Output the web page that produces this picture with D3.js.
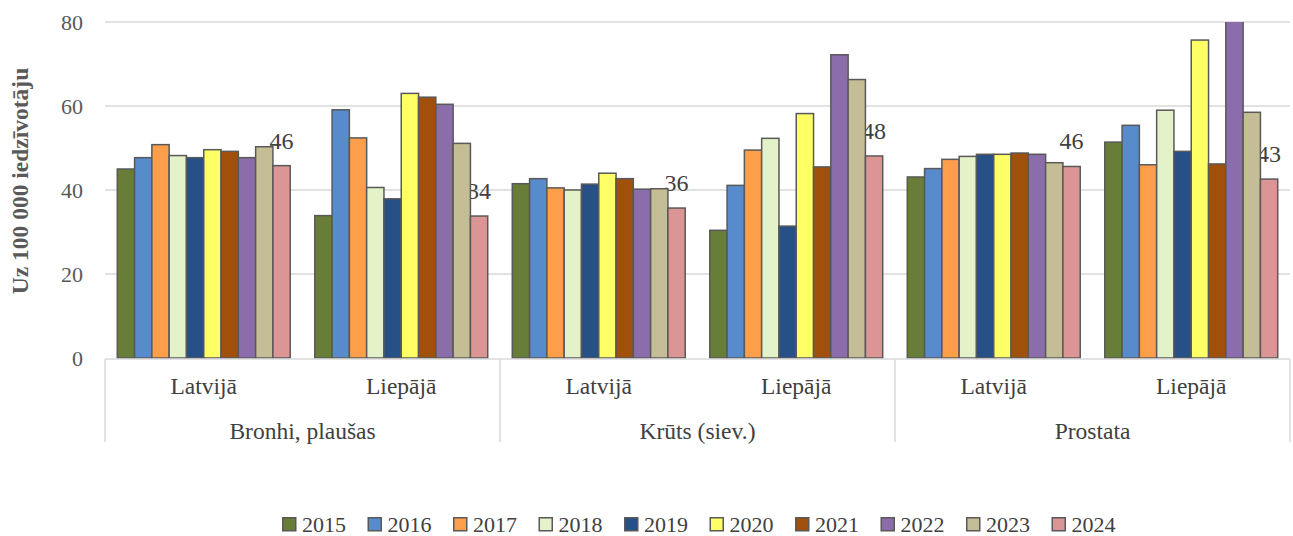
<!DOCTYPE html>
<html>
<head>
<meta charset="utf-8">
<script src="https://cdn.jsdelivr.net/npm/d3@7/dist/d3.min.js"></script>
<style>
  html, body { margin: 0; padding: 0; background: #fff; }
  svg { display: block; }
</style>
</head>
<body>
<svg id="chart" width="1293" height="536"></svg>
<script>
// ---- Data ----
const categories = ["Bronhi, plaušas", "Krūts (siev.)", "Prostata"];
const regions = ["Latvijā", "Liepājā"];
const years = ["2015", "2016", "2017", "2018", "2019", "2020", "2021", "2022", "2023", "2024"];
const colors = ["#687d37", "#588bcb", "#fd9e4b", "#e4f2c9", "#265086", "#ffff66", "#a1500c", "#8b6dab", "#c5bd96", "#db9594"];
const yTicks = [0, 20, 40, 60, 80];

// values per subgroup, ordered by year 2015..2024
const bronhiLatvija   = [45.0, 47.7, 50.8, 48.2, 47.7, 49.6, 49.2, 47.7, 50.3, 45.8];
const bronhiLiepaja   = [33.9, 59.1, 52.4, 40.6, 37.9, 63.0, 62.1, 60.4, 51.1, 33.8];
const krutsLatvija    = [41.5, 42.7, 40.5, 40.0, 41.4, 44.0, 42.7, 40.2, 40.3, 35.7];
const krutsLiepaja    = [30.4, 41.1, 49.5, 52.3, 31.4, 58.2, 45.5, 72.2, 66.3, 48.1];
const prostataLatvija = [43.1, 45.1, 47.3, 48.0, 48.5, 48.5, 48.8, 48.5, 46.5, 45.6];
const prostataLiepaja = [51.4, 55.4, 46.0, 59.0, 49.2, 75.7, 46.2, 84.0, 58.5, 42.6];

const seriesBySubgroup = [bronhiLatvija, bronhiLiepaja, krutsLatvija, krutsLiepaja, prostataLatvija, prostataLiepaja];

// ---- Layout ----
const FONT = "'Liberation Serif'";
const pLeft = 105, pRight = 1290, pTop = 22, pBottom = 358;
const svg = d3.select("#chart");

const subgroups = [];
categories.forEach((c, ci) => regions.forEach((r, ri) => subgroups.push({ id: ci + "-" + ri, cat: c, region: r, ci, values: seriesBySubgroup[ci * regions.length + ri] })));

const x0 = d3.scaleBand().domain(subgroups.map(d => d.id)).range([pLeft, pRight]).padding(0);
const xCat = d3.scaleBand().domain(categories).range([pLeft, pRight]).padding(0);
const x1 = d3.scaleBand().domain(years).range([0, x0.bandwidth()]).paddingInner(0).paddingOuter(0.71);
const y = d3.scaleLinear().domain([0, 80]).range([pBottom, pTop]);

// Gridlines
svg.append("g")
  .selectAll("line").data(yTicks.filter(t => t > 0)).join("line")
  .attr("x1", pLeft).attr("x2", pRight)
  .attr("y1", d => y(d)).attr("y2", d => y(d))
  .attr("stroke", "#d9d9d9").attr("stroke-width", 1.5);

// Y axis tick labels
const yAxis = d3.axisLeft(y).tickValues(yTicks).tickSize(0).tickPadding(0).tickFormat(d3.format("d"));
const gy = svg.append("g").attr("transform", `translate(${pLeft - 22},0)`).call(yAxis);
gy.select(".domain").remove();
gy.attr("font-family", null).attr("font-size", null);
gy.selectAll("text").attr("fill", "#595959").style("font-size", "22px");

// Y title
svg.append("text")
  .attr("transform", `translate(28,181) rotate(-90)`)
  .attr("text-anchor", "middle")
  .attr("fill", "#595959")
  .style("font-size", "23.5px").style("font-weight", "bold")
  .text("Uz 100 000 iedzīvotāju");

// Clip
svg.append("clipPath").attr("id", "plotclip")
  .append("rect").attr("x", pLeft).attr("y", pTop).attr("width", pRight - pLeft).attr("height", pBottom - pTop + 2);

// Data labels (drawn beneath bars)
const lastIdx = years.length - 1;
svg.append("g")
  .selectAll("text").data(subgroups).join("text")
  .attr("x", d => x0(d.id) + x1(years[lastIdx]) + x1.bandwidth() / 2)
  .attr("y", d => y(d.values[lastIdx]) - 17)
  .attr("text-anchor", "middle")
  .attr("fill", "#404040")
  .style("font-size", "24px")
  .text(d => d3.format(".0f")(d.values[lastIdx]));

// Bars
const gBars = svg.append("g").attr("clip-path", "url(#plotclip)");
gBars.selectAll("g").data(subgroups).join("g")
  .attr("transform", d => `translate(${x0(d.id)},0)`)
  .selectAll("rect").data(d => d.values.map((v, i) => ({ v, i })))
  .join("rect")
  .attr("x", d => x1(years[d.i]))
  .attr("y", d => y(d.v))
  .attr("width", x1.bandwidth())
  .attr("height", d => y(0) - y(d.v))
  .attr("fill", d => colors[d.i])
  .attr("stroke", "#595959")
  .attr("stroke-width", 1.5);

// Category axis (two-level)
const axisColor = "#d9d9d9";
svg.append("line").attr("x1", pLeft).attr("x2", pRight).attr("y1", pBottom + 1).attr("y2", pBottom + 1)
  .attr("stroke", axisColor).attr("stroke-width", 1.5);
svg.append("g").selectAll("line").data([...categories.map(c => xCat(c)), pRight]).join("line")
  .attr("x1", d => d).attr("x2", d => d)
  .attr("y1", pBottom + 1).attr("y2", 442)
  .attr("stroke", axisColor).attr("stroke-width", 1.5);

svg.append("g").selectAll("text").data(subgroups).join("text")
  .attr("x", d => x0(d.id) + x0.bandwidth() / 2)
  .attr("y", 394)
  .attr("text-anchor", "middle")
  .attr("fill", "#404040")
  .style("font-size", "23.5px")
  .text(d => d.region);

svg.append("g").selectAll("text").data(categories).join("text")
  .attr("x", d => xCat(d) + xCat.bandwidth() / 2)
  .attr("y", 439)
  .attr("text-anchor", "middle")
  .attr("fill", "#404040")
  .style("font-size", "23.5px")
  .text(d => d);

// Legend
const legendX = d3.scaleBand().domain(years).range([282, 282 + 85.5 * years.length]);
const lg = svg.append("g").selectAll("g").data(years).join("g")
  .attr("transform", d => `translate(${legendX(d)},517)`);
lg.append("rect").attr("width", 13).attr("height", 13)
  .attr("x", 0.75).attr("y", 0.75)
  .attr("fill", (d, i) => colors[i]).attr("stroke", "#595959").attr("stroke-width", 1.5);
lg.append("text").attr("x", 20).attr("y", 14.5)
  .attr("fill", "#404040").style("font-size", "22px")
  .text(d => d);

svg.selectAll("text").style("font-family", FONT);
</script>
</body>
</html>
